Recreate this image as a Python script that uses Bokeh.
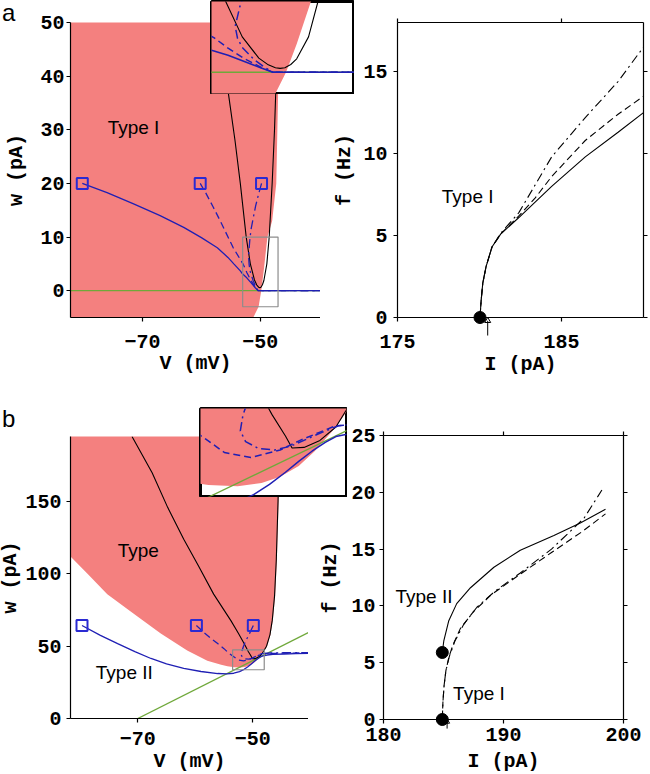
from bokeh.plotting import figure
from bokeh.models import Range1d, FixedTicker, LinearAxis, Div
from bokeh.layouts import row, column
from bokeh.core.properties import value
from bokeh.embed import file_html
from bokeh.resources import INLINE

# ======================= DATA =======================
# ---- panel a, phase plane ----
a_v_range = [-82.2, -39.8]
a_w_range = [-5, 50]
a_v_ticks = [-70, -50]
a_w_ticks = [0, 10, 20, 30, 40, 50]
a_red_v = [-84, -84, -47.0, -47.0, -47.3, -48.0, -48.8, -49.4, -49.85, -50.3, -51.2, -51.6]
a_red_w = [-6, 52, 52, 36, 20, 13, 10, 4, 0, -3, -5, -6]
a_vnull_v = [-56.8, -55.4, -54.3, -53.4, -52.4, -51.7, -51.0, -50.6, -50.3, -50.1, -49.9,
             -49.65, -49.4, -48.9, -48.5, -48.0, -47.6, -47.3, -47.1]
a_vnull_w = [50, 36.6, 28, 20, 10, 5, 2.0, 1.05, 0.65, 0.55, 0.65, 1.1, 1.9, 5, 10, 20, 30, 40, 50]
a_wnull_v = [-85, -38]
a_wnull_w = [0, 0]
a_traj1_v = [-80.2, -76, -71.5, -67, -63, -60, -57.3, -55.5, -54.5, -53.4, -53.0, -52.3,
             -51.75, -51.2, -50.9, -50.4, -39.8]
a_traj1_w = [20, 18.3, 16.2, 14.0, 11.8, 9.9, 8.0, 6.2, 5.0, 3.7, 3.1, 2.4, 1.7, 1.0, 0.6, 0.0, 0.0]
a_traj2_v = [-60.2, -59.3, -58, -56.8, -55.7, -54.6, -53.5, -52.9, -52.3, -51.6, -50.9, -50.4, -39.8]
a_traj2_w = [20, 18.3, 15.6, 13.0, 10.5, 8.0, 6.0, 4.9, 3.4, 1.9, 0.7, 0.0, 0.0]
a_traj3_v = [-49.8, -50.3, -50.8, -51.2, -51.6, -51.8, -52.0, -51.9, -51.7, -51.2, -50.8, -50.4, -39.8]
a_traj3_w = [20, 18.0, 15.8, 13.6, 11.3, 9.3, 6.5, 4.8, 3.5, 1.8, 0.8, 0.0, 0.0]
a_start_v = [-80.2, -60.2, -49.8]
a_start_w = [20, 20, 20]
a_zoom_v = [-53, -47]
a_zoom_w = [-3, 10]
a_text_v = [-75.9]
a_text_w = [30.5]
a_text = ["Type I"]

# ---- panel a, f-I curve ----
fa_I_range = [175, 190]
fa_f_range = [0, 18]
fa_I_ticks = [175, 185]
fa_f_ticks = [0, 5, 10, 15]
fa_solid_I = [180.03, 180.1, 180.2, 180.4, 180.76, 181.3, 182.4, 184.4, 186.45, 188.45, 190.0]
fa_solid_f = [0, 1.04, 2.1, 3.1, 4.3, 5.1, 6.1, 8.0, 9.8, 11.3, 12.5]
fa_dash_I = [180.03, 180.1, 180.2, 180.4, 180.76, 181.3, 182.4, 183.4, 184.4, 186.45, 188.45, 190.0]
fa_dash_f = [0, 1.04, 2.1, 3.1, 4.3, 5.1, 6.2, 7.3, 8.6, 10.8, 12.4, 13.5]
fa_dd_I = [180.03, 180.1, 180.2, 180.4, 180.76, 181.3, 182.4, 183.4, 184.4, 186.45, 188.45, 190.0]
fa_dd_f = [0, 1.04, 2.1, 3.1, 4.3, 5.15, 6.4, 8.1, 9.8, 12.2, 14.4, 16.5]
fa_onset_I = [180.03]
fa_onset_f = [0]
fa_arrow_I = [180.5]
fa_arrow_f = [-1.1, -0.2]        # arrow tail / tip (below the axis)
fa_text_I = [177.7]
fa_text_f = [7.4]
fa_text = ["Type I"]

# ---- panel b, phase plane ----
b_v_range = [-81.7, -40.3]
b_w_range = [0, 195]
b_v_ticks = [-70, -50]
b_w_ticks = [0, 50, 100, 150]
b_red_v = [-84, -84, -81.7, -78.7, -75.3, -70.7, -66, -61.4, -57.9, -55.5, -54.4, -53.2, -52.1,
           -51.2, -50.5, -49.8, -49.2, -48.4, -47.5, -46.9, -46.5, -46.1, -45.8, -45.5, -45.25]
b_red_w = [200, 117, 112, 100, 86, 72.5, 58.7, 47, 40, 37.2, 36.2, 35.5, 35.3,
           35.8, 36.8, 38.5, 40.8, 44.6, 50, 58, 68, 85, 110, 150, 200]
b_vnull_v = [-71.0, -67.5, -64.8, -62, -59.5, -56.8, -53.8, -52.5, -51.5, -50.8, -50.3, -50.05,
             -49.6, -49.0, -48.4, -47.6, -47.0, -46.6, -46.2, -45.9, -45.6, -45.35]
b_vnull_w = [195, 170, 146, 124, 106, 86, 67.7, 59, 51.8, 46.5, 43.2, 41.3,
             41.4, 42.5, 44.6, 50, 58, 68, 85, 110, 150, 195]
b_wnull_v = [-70, -40]
b_wnull_w = [0, 60]
b_traj1_v = [-79.7, -76.5, -73.5, -70.5, -67.7, -65, -62, -59, -56.1, -54.5, -53.3, -52.3, -51.5,
             -50.9, -50.3, -49.8, -49.3, -48.8, -48.4, -47.5, -46.5, -44.6, -42.5, -40.3]
b_traj1_w = [64.3, 57.5, 51.8, 46.2, 41.5, 37.8, 34.6, 32.5, 31.1, 30.9, 31.3, 32.4, 34.0,
             35.6, 37.5, 39.2, 40.8, 42.2, 43.1, 43.9, 44.3, 44.6, 44.8, 45.0]
b_traj2_v = [-59.8, -58.5, -57.3, -56.1, -55.0, -54.2, -53.3, -52.6, -51.6, -50.5, -49.75,
             -49.0, -48.4, -47.5, -46.0, -44.0, -42.0, -40.3]
b_traj2_w = [64.3, 59.5, 55.5, 51.8, 48.3, 45.3, 42.7, 40.6, 39.8, 41.0, 42.5,
             43.8, 44.8, 45.0, 45.1, 45.2, 45.3, 45.3]
b_traj3_v = [-49.9, -50.3, -50.7, -51.2, -51.6, -51.9, -52.0, -51.8, -51.3, -50.7, -50.1,
             -49.5, -48.9, -48.3, -47.0, -45.0, -42.5, -40.3]
b_traj3_w = [64.3, 61, 57.5, 53.9, 50, 46.5, 44.0, 42.3, 41.2, 41.0, 41.6,
             42.7, 43.8, 44.8, 45.3, 45.5, 45.5, 45.5]
b_start_v = [-79.7, -59.8, -49.9]
b_start_w = [64.3, 64.3, 64.3]
b_zoom_v = [-53.5, -48.0]
b_zoom_w = [33.7, 47.5]
b_text_v = [-73.5, -77.3]
b_text_w = [116, 31.8]
b_text = ["Type", "Type II"]

# ---- panel b, f-I curve ----
fb_I_range = [180, 200]
fb_f_range = [0, 25]
fb_I_ticks = [180, 190, 200]
fb_f_ticks = [0, 5, 10, 15, 20, 25]
fb_solid_I = [184.9, 185.03, 185.44, 186.1, 187.25, 189.2, 191.4, 194.2, 196.4, 198.5]
fb_solid_f = [5.9, 6.95, 8.7, 10.2, 11.6, 13.4, 14.9, 16.2, 17.3, 18.5]
fb_dash_I = [184.9, 184.95, 185.05, 185.2, 185.45, 185.8, 186.4, 187.5, 189.0, 191.4, 194.0, 196.5, 198.5]
fb_dash_f = [0, 1.5, 3.0, 4.3, 5.5, 6.6, 8.0, 9.5, 11.0, 12.8, 14.7, 16.5, 18.1]
fb_dd_I = [184.9, 184.95, 185.05, 185.2, 185.5, 185.95, 186.7, 187.8, 189.3, 191.4, 194.0, 196.7, 198.2]
fb_dd_f = [0, 1.5, 3.0, 4.3, 5.6, 6.9, 8.4, 9.9, 11.3, 12.9, 15.0, 17.7, 20.2]
fb_onset_I = [184.9, 184.9]
fb_onset_f = [5.9, 0]
fb_arrow_I = [185.3]
fb_arrow_f = [-0.8, -0.2]        # arrow tail / tip (below the axis)
fb_text_I = [181.0, 185.8]
fb_text_f = [10.8, 2.3]
fb_text = ["Type II", "Type I"]

# ======================= STYLE =======================
RED = "#F4807F"
BLUE = "#1f1fb4"
SQ = "#2a2ad2"
GREEN = "#6fa83a"
GRAY = "#8c8c8c"
DASH = "7 4"
DASHDOT = "9 4 2 4"
MONO = "Liberation Mono"
SANS = "Liberation Sans"
FS = "20px"
TXT = "19px"


def make_fig(xr, yr, fw, fh, top, right, bottom, left):
    p = figure(x_range=Range1d(xr[0], xr[1]), y_range=Range1d(yr[0], yr[1]),
               frame_width=fw, frame_height=fh,
               min_border_top=top, min_border_right=right,
               min_border_bottom=bottom, min_border_left=left,
               x_axis_location=None, y_axis_location=None,
               output_backend="svg", toolbar_location=None, frame_align=False)
    p.grid.visible = False
    p.outline_line_color = None
    p.background_fill_color = "white"
    p.border_fill_alpha = 0
    return p


def add_axis(p, side, ticks, label=None, show_labels=True, lab_standoff=4, axis_standoff=4):
    ax = LinearAxis(ticker=FixedTicker(ticks=ticks))
    ax.major_tick_out = 4
    ax.major_tick_in = 0
    ax.minor_tick_out = 0
    ax.minor_tick_in = 0
    ax.axis_line_color = "black"
    ax.axis_line_width = 1.2
    ax.major_tick_line_color = "black"
    ax.major_tick_line_width = 1.2
    ax.major_label_text_font = MONO
    ax.major_label_text_font_style = "bold"
    ax.major_label_text_color = "black"
    ax.major_label_standoff = lab_standoff
    if show_labels:
        ax.major_label_text_font_size = FS
    else:
        ax.major_label_text_font_size = "1px"
        ax.major_label_overrides = {t: "" for t in ticks}
        ax.major_label_standoff = 0
    if label:
        ax.axis_label = label
        ax.axis_label_text_font = MONO
        ax.axis_label_text_font_style = "bold"
        ax.axis_label_text_font_size = FS
        ax.axis_label_text_color = "black"
        ax.axis_label_standoff = axis_standoff
    p.add_layout(ax, side)
    return ax


def phase_content(p, red_v, red_w, vn_v, vn_w, wn_v, wn_w, t1, t2, t3, lw=1.3):
    p.patch(red_v, red_w, fill_color=RED, line_color=None)
    p.line(wn_v, wn_w, line_color=GREEN, line_width=1.3)
    p.line(vn_v, vn_w, line_color="black", line_width=1.1)
    p.line(t1[0], t1[1], line_color=BLUE, line_width=lw)
    p.line(t2[0], t2[1], line_color=BLUE, line_width=lw, line_dash=DASH)
    p.line(t3[0], t3[1], line_color=BLUE, line_width=lw, line_dash=DASHDOT)


def inset_fig(xr, yr, fw, fh):
    p = figure(x_range=Range1d(xr[0], xr[1]), y_range=Range1d(yr[0], yr[1]),
               frame_width=fw, frame_height=fh, min_border=1,
               x_axis_location=None, y_axis_location=None,
               output_backend="svg", toolbar_location=None, frame_align=False)
    p.grid.visible = False
    p.outline_line_color = "black"
    p.outline_line_width = 3
    p.background_fill_color = "white"
    p.border_fill_color = "white"
    return p


def fi_content(p, s, d, dd, onset, arrow, head_size, txt):
    p.line(s[0], s[1], line_color="black", line_width=1.1)
    p.line(d[0], d[1], line_color="black", line_width=1.1, line_dash=DASH)
    p.line(dd[0], dd[1], line_color="black", line_width=1.1, line_dash=DASHDOT)
    p.scatter(onset[0], onset[1], marker="circle", size=12, fill_color="black",
              line_color="black", level="overlay")
    # small upward arrow under the axis
    p.segment(x0=arrow[0], y0=[arrow[1][0]], x1=arrow[0], y1=[arrow[1][1]],
              line_color="black", line_width=1, level="overlay")
    p.scatter(arrow[0], [arrow[1][1]], marker="triangle", size=head_size, fill_color=None,
              line_color="black", line_width=1, level="overlay")
    p.text(txt[0], txt[1], text=txt[2], text_font=value(SANS), text_font_size=TXT,
           text_baseline="middle", text_color="black")


# ======================= PANEL a =======================
left_a = make_fig(a_v_range, a_w_range, 250, 295, 22, 0, 63, 70)
phase_content(left_a, a_red_v, a_red_w, a_vnull_v, a_vnull_w, a_wnull_v, a_wnull_w,
              (a_traj1_v, a_traj1_w), (a_traj2_v, a_traj2_w), (a_traj3_v, a_traj3_w))
left_a.scatter(a_start_v, a_start_w, marker="square", size=11, fill_color=None,
               line_color=SQ, line_width=2)
left_a.quad(left=[a_zoom_v[0]], right=[a_zoom_v[1]], bottom=[a_zoom_w[0]], top=[a_zoom_w[1]],
            fill_color=None, line_color=GRAY, line_width=1.2)
left_a.text(a_text_v, a_text_w, text=a_text, text_font=value(SANS), text_font_size=TXT,
            text_baseline="middle", text_color="black")
add_axis(left_a, "below", a_v_ticks, "V (mV)", lab_standoff=13, axis_standoff=1)
add_axis(left_a, "left", a_w_ticks, "w (pA)", lab_standoff=2, axis_standoff=9)

inset_a = inset_fig(a_zoom_v, a_zoom_w, 142, 92)
phase_content(inset_a, a_red_v, a_red_w, a_vnull_v, a_vnull_w, a_wnull_v, a_wnull_w,
              (a_traj1_v, a_traj1_w), (a_traj2_v, a_traj2_w), (a_traj3_v, a_traj3_w), lw=1.5)

right_a = make_fig(fa_I_range, fa_f_range, 246, 295, 22, 7, 63, 77)
fi_content(right_a, (fa_solid_I, fa_solid_f), (fa_dash_I, fa_dash_f), (fa_dd_I, fa_dd_f),
           (fa_onset_I, fa_onset_f), (fa_arrow_I, fa_arrow_f), 6,
           (fa_text_I, fa_text_f, fa_text))
add_axis(right_a, "below", fa_I_ticks, "I (pA)", lab_standoff=13, axis_standoff=2)
add_axis(right_a, "left", fa_f_ticks, "f (Hz)", lab_standoff=6, axis_standoff=4)
add_axis(right_a, "above", fa_I_ticks, show_labels=False)
add_axis(right_a, "right", fa_f_ticks, show_labels=False)

# ======================= PANEL b =======================
left_b = make_fig(b_v_range, b_w_range, 238, 282, 56, 0, 56, 75)
phase_content(left_b, b_red_v, b_red_w, b_vnull_v, b_vnull_w, b_wnull_v, b_wnull_w,
              (b_traj1_v, b_traj1_w), (b_traj2_v, b_traj2_w), (b_traj3_v, b_traj3_w))
left_b.scatter(b_start_v, b_start_w, marker="square", size=11, fill_color=None,
               line_color=SQ, line_width=2)
left_b.quad(left=[b_zoom_v[0]], right=[b_zoom_v[1]], bottom=[b_zoom_w[0]], top=[b_zoom_w[1]],
            fill_color=None, line_color=GRAY, line_width=1.2)
left_b.text(b_text_v, b_text_w, text=b_text, text_font=value(SANS), text_font_size=TXT,
            text_baseline="middle", text_color="black")
add_axis(left_b, "below", b_v_ticks, "V (mV)", lab_standoff=9, axis_standoff=2)
add_axis(left_b, "left", b_w_ticks, "w (pA)", lab_standoff=5, axis_standoff=0)

inset_b = inset_fig(b_zoom_v, b_zoom_w, 146, 88)
phase_content(inset_b, b_red_v, b_red_w, b_vnull_v, b_vnull_w, b_wnull_v, b_wnull_w,
              (b_traj1_v, b_traj1_w), (b_traj2_v, b_traj2_w), (b_traj3_v, b_traj3_w), lw=1.5)

right_b = make_fig(fb_I_range, fb_f_range, 240, 284, 55, 27, 55, 75)
fi_content(right_b, (fb_solid_I, fb_solid_f), (fb_dash_I, fb_dash_f), (fb_dd_I, fb_dd_f),
           (fb_onset_I, fb_onset_f), (fb_arrow_I, fb_arrow_f), 5,
           (fb_text_I, fb_text_f, fb_text))
add_axis(right_b, "below", fb_I_ticks, "I (pA)", lab_standoff=4, axis_standoff=6)
add_axis(right_b, "left", fb_f_ticks, "f (Hz)", lab_standoff=4, axis_standoff=6)
add_axis(right_b, "above", fb_I_ticks, show_labels=False)
add_axis(right_b, "right", fb_f_ticks, show_labels=False)

# ======================= LAYOUT =======================
# panel letters are placed after the left plots so they sit on top of them
label_style = {"font-family": SANS, "font-size": "24px", "line-height": "24px", "color": "black"}
div_a = Div(text="a", width=30, height=28, margin=(1, 0, 0, -318), styles=label_style)
div_b = Div(text="b", width=30, height=28, margin=(27, 0, 0, -306), styles=label_style)

left_a.margin = (0, 0, 0, 0)              # occupies x 0..320
inset_a.margin = (0, 0, 0, 178)           # after div (ends at 32) -> starts at x 210
right_a.margin = (0, 0, 0, -34)           # starts at x 320

left_b.margin = (0, 0, 0, -5)             # occupies x -5..308
inset_b.margin = (27, 0, 0, 167)          # after div (ends at 32) -> starts at x 199
right_b.margin = (0, 0, 0, -39)           # starts at x 308

row_a = row(left_a, div_a, inset_a, right_a)
row_b = row(left_b, div_b, inset_b, right_b)
page = column(row_a, row_b)

open("out.html", "w").write(file_html(page, INLINE))
